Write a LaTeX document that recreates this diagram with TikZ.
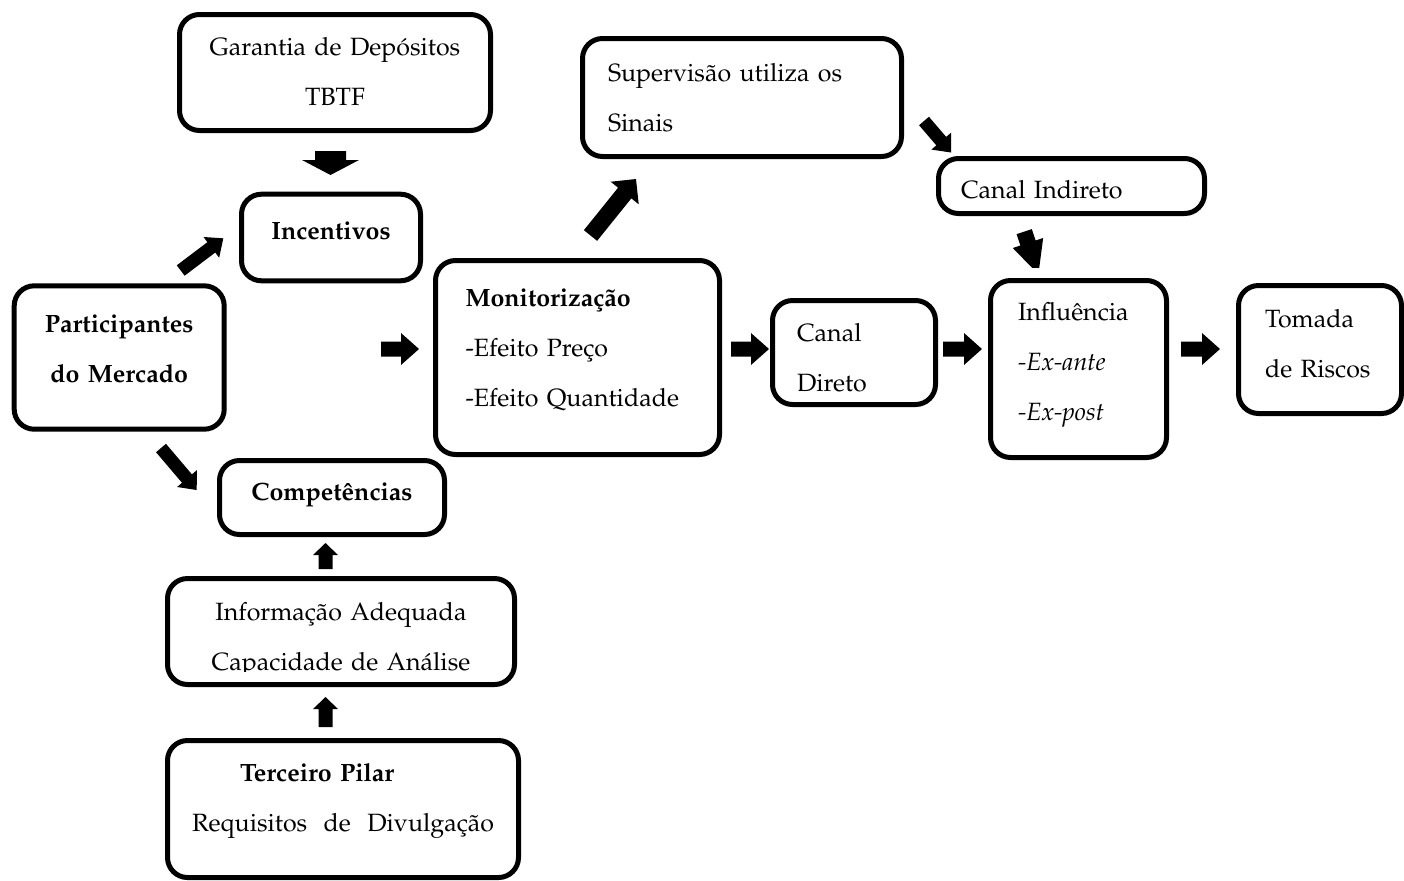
\documentclass[tikz,border=0pt]{standalone}
\usepackage[T1]{fontenc}
\usepackage{mathpazo}
\usetikzlibrary{calc}
\tikzset{
  box/.style={draw=black, line width=2.5pt, rounded corners=10pt, inner ysep=0pt,
    font=\fontsize{12.5}{25}\selectfont},
  boldbox/.style={box, font=\fontsize{12.5}{25}\selectfont\bfseries},
  blockfill/.style={fill=black},
  % first baseline placement: (height - depth) = offset in px below the centre
  base/.style 2 args={text height=#1, text depth=#2},
}
% #1 start, #2 tip, #3 shaft half width, #4 head half width, #5 head length
\newcommand\blockarrow[5]{%
  \coordinate (tmpb) at ($(#2)!#5!(#1)$);
  \path[blockfill] ($(#1)!#3!90:(#2)$) -- ($(tmpb)!#3!90:(#2)$) -- ($(tmpb)!#4!90:(#2)$)
    -- (#2) -- ($(tmpb)!#4!-90:(#2)$) -- ($(tmpb)!#3!-90:(#2)$) -- ($(#1)!#3!-90:(#2)$) -- cycle;}
\begin{document}
\begin{tikzpicture}[x=0.5pt,y=-0.5pt]
\useasboundingbox (0,0) rectangle (1404,880);
\fill[white] (0,0) rectangle (1404,880);

% boxes
\node[box, base={0pt}{17.5pt}, minimum width=155.5pt, minimum height=58pt, text width=145pt, align=center] (gar) at (335,72.5)
  {Garantia de Dep\'ositos\\TBTF};
\node[boldbox, base={1.8pt}{0pt}, minimum width=89.5pt, minimum height=43.3pt] (inc) at (331,237.5) {Incentivos};
\node[boldbox, base={0pt}{25pt}, minimum width=105pt, minimum height=71.7pt, text width=95pt, align=center] (part) at (119.2,357.5)
  {Participantes\\do Mercado};
\node[boldbox, base={3pt}{0pt}, minimum width=112.5pt, minimum height=37pt] (comp) at (332,497.5) {Compet\^encias};
\node[box, base={0pt}{11.5pt}, minimum width=173.5pt, minimum height=53pt, text width=165pt, align=center] (info) at (341,631.5)
  {Informa\c{c}\~ao Adequada\\Capacidade de An\'alise};
\node[box, base={0pt}{28pt}, minimum width=175.5pt, minimum height=68.5pt, inner xsep=12pt, text width=151pt, align=left] (ter) at (343,809)
  {\hspace*{24pt}\textbf{Terceiro Pilar}\\\makebox[151pt][l]{Requisitos\hfill de\hfill Divulga\c{c}\~ao}};
\node[box, base={0pt}{51.5pt}, minimum width=142pt, minimum height=97pt, inner xsep=15pt, text width=112pt, align=left] (mon) at (577.5,357.5)
  {\textbf{Monitoriza\c{c}\~ao}\\-Efeito Pre\c{c}o\\-Efeito Quantidade};
\node[box, base={0pt}{16pt}, minimum width=159.5pt, minimum height=59pt, inner xsep=12.75pt, text width=134pt, align=left] (sup) at (742,97.5)
  {Supervis\~ao utiliza os\\Sinais};
\node[box, base={12.5pt}{0pt}, minimum width=133pt, minimum height=27.5pt, inner xsep=11.25pt, text width=110.5pt, align=left] (ind) at (1071.5,186)
  {Canal Indireto};
\node[box, base={0pt}{11pt}, minimum width=81.5pt, minimum height=52pt, inner xsep=12.25pt, text width=57pt, align=left] (dir) at (854,352.5)
  {Canal\\Direto};
\node[box, base={0pt}{49pt}, minimum width=88pt, minimum height=88.5pt, inner xsep=13.75pt, text width=60.5pt, align=left] (inf) at (1078.5,369)
  {Influ\^encia\\\textit{-Ex-ante}\\\textit{-Ex-post}};
\node[box, base={0pt}{22pt}, minimum width=81.5pt, minimum height=64pt, inner xsep=13.25pt, text width=55pt, align=left] (tom) at (1320,349.5)
  {Tomada\\de Riscos};
% the last line of this box is cut off at the bottom in the original
\fill[white] (185,672) rectangle (498,681);

% arrow end points
\coordinate (garS) at (330.5,151);   \coordinate (incE) at (330.5,175);
\coordinate (partS1) at (180.7,270.5); \coordinate (incE2) at (223.3,238.3);
\coordinate (partS2) at (161,448);   \coordinate (compE) at (196.7,490);
\coordinate (monS0) at (381,349);    \coordinate (monE) at (419,349);
\coordinate (infoS) at (325.5,569);  \coordinate (compE2) at (325.5,543);
\coordinate (terS) at (325.5,727);   \coordinate (infoE) at (325.5,697);
\coordinate (monS) at (590.5,235.5); \coordinate (supE) at (636,179);
\coordinate (supS) at (924,121);     \coordinate (indE) at (951,152.5);
\coordinate (monS2) at (731,349);    \coordinate (dirE) at (769,349);
\coordinate (dirS) at (943,349);     \coordinate (infE) at (982,349);
\coordinate (infS) at (1181,349);    \coordinate (tomE) at (1220,349);
\coordinate (indS) at (1024.2,231.6); \coordinate (infE2) at (1038.4,274.3);

% block arrows
\blockarrow{garS}{incE}{7.75pt}{14.25pt}{7.5pt}
\blockarrow{partS1}{incE2}{3.25pt}{6.5pt}{7.5pt}
\blockarrow{partS2}{compE}{3.25pt}{6.5pt}{7.5pt}
\blockarrow{monS0}{monE}{3.75pt}{8pt}{9pt}
\blockarrow{infoS}{compE2}{3.5pt}{6.25pt}{6pt}
\blockarrow{terS}{infoE}{3.5pt}{6.25pt}{6pt}
\blockarrow{monS}{supE}{4.25pt}{9pt}{9pt}
\blockarrow{supS}{indE}{3.25pt}{6.5pt}{7.5pt}
\blockarrow{monS2}{dirE}{3.75pt}{8pt}{9pt}
\blockarrow{dirS}{infE}{3.75pt}{8pt}{9pt}
\blockarrow{infS}{tomE}{3.75pt}{8pt}{9pt}
\begin{scope}
  \clip (900,200) rectangle (1100,267);
  \blockarrow{indS}{infE2}{4pt}{8pt}{16.5pt}
\end{scope}
\end{tikzpicture}
\end{document}
